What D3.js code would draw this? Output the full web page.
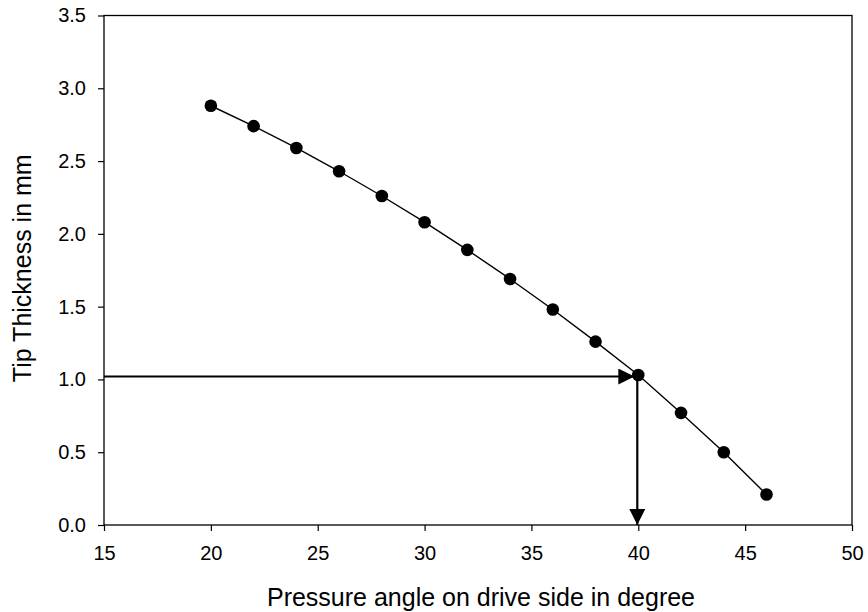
<!DOCTYPE html>
<html>
<head>
<meta charset="utf-8">
<script src="https://cdn.jsdelivr.net/npm/d3@7"></script>
<style>
  body { margin: 0; background: #fff; }
  text { font-family: "Liberation Sans", Arial, sans-serif; fill: #000; }
</style>
</head>
<body>
<script>
// Data
const pressureAngle = [20, 22, 24, 26, 28, 30, 32, 34, 36, 38, 40, 42, 44, 46];
const tipThickness = [2.88, 2.74, 2.59, 2.43, 2.26, 2.08, 1.89, 1.69, 1.48, 1.26, 1.03, 0.77, 0.50, 0.21];
const xTicks = [15, 20, 25, 30, 35, 40, 45, 50];
const yTicks = [0.0, 0.5, 1.0, 1.5, 2.0, 2.5, 3.0, 3.5];
// reading marker: angle and thickness shown by arrows
const markAngle = 40;
const markThickness = 1.02;

const width = 868, height = 612;
const margin = { left: 104, right: 16, top: 15.5, bottom: 87 };

const svg = d3.select('body').append('svg')
  .attr('width', width)
  .attr('height', height);

const x = d3.scaleLinear().domain([15, 50]).range([margin.left, width - margin.right]);
const y = d3.scaleLinear().domain([0, 3.5]).range([height - margin.bottom, margin.top]);

// Frame
svg.append('rect')
  .attr('x', x(15)).attr('y', y(3.5))
  .attr('width', x(50) - x(15)).attr('height', y(0) - y(3.5))
  .attr('fill', 'none').attr('stroke', '#000').attr('stroke-width', 1.3);

// Axes
const xAxis = svg.append('g')
  .attr('transform', `translate(0,${y(0)})`)
  .call(d3.axisBottom(x).tickValues(xTicks).tickSize(6).tickPadding(15).tickFormat(d3.format('d')));
const yAxis = svg.append('g')
  .attr('transform', `translate(${x(15)},0)`)
  .call(d3.axisLeft(y).tickValues(yTicks).tickSize(6).tickPadding(12).tickFormat(d3.format('.1f')));

[xAxis, yAxis].forEach(g => {
  g.select('.domain').remove();
  g.selectAll('line').attr('stroke', '#000').attr('stroke-width', 1.2);
  g.selectAll('text').style('font-size', '20px').style('font-family', '"Liberation Sans", Arial, sans-serif');
});

// Axis titles
svg.append('text')
  .attr('x', 481)
  .attr('y', 606)
  .attr('text-anchor', 'middle')
  .style('font-size', '25px')
  .text('Pressure angle on drive side in degree');

svg.append('text')
  .attr('transform', `translate(31,${(y(0) + y(3.5)) / 2 - 2}) rotate(-90)`)
  .attr('text-anchor', 'middle')
  .style('font-size', '25px')
  .text('Tip Thickness in mm');

// Arrow markers
const defs = svg.append('defs');
defs.append('marker')
  .attr('id', 'arrow')
  .attr('viewBox', '0 0 16 16')
  .attr('refX', 16).attr('refY', 8)
  .attr('markerWidth', 16).attr('markerHeight', 16)
  .attr('markerUnits', 'userSpaceOnUse')
  .attr('orient', 'auto')
  .append('path')
  .attr('d', 'M0,0 L16,8 L0,16 Z')
  .attr('fill', '#000');

const data = pressureAngle.map((a, i) => ({ a: a, t: tipThickness[i] }));

// Reading arrows
svg.append('line')
  .attr('x1', x(15)).attr('y1', y(markThickness))
  .attr('x2', x(markAngle) - 4).attr('y2', y(markThickness))
  .attr('stroke', '#000').attr('stroke-width', 2.2)
  .attr('marker-end', 'url(#arrow)');

svg.append('line')
  .attr('x1', x(markAngle) - 1).attr('y1', y(markThickness))
  .attr('x2', x(markAngle) - 1).attr('y2', y(0))
  .attr('stroke', '#000').attr('stroke-width', 2.2)
  .attr('marker-end', 'url(#arrow)');

// Series line
const line = d3.line().x(d => x(d.a)).y(d => y(d.t));
svg.append('path')
  .datum(data)
  .attr('d', line)
  .attr('fill', 'none')
  .attr('stroke', '#000')
  .attr('stroke-width', 1.4);

// Points
svg.selectAll('circle.pt')
  .data(data)
  .enter()
  .append('circle')
  .attr('class', 'pt')
  .attr('cx', d => x(d.a))
  .attr('cy', d => y(d.t))
  .attr('r', 6.3)
  .attr('fill', '#000');
</script>
</body>
</html>
